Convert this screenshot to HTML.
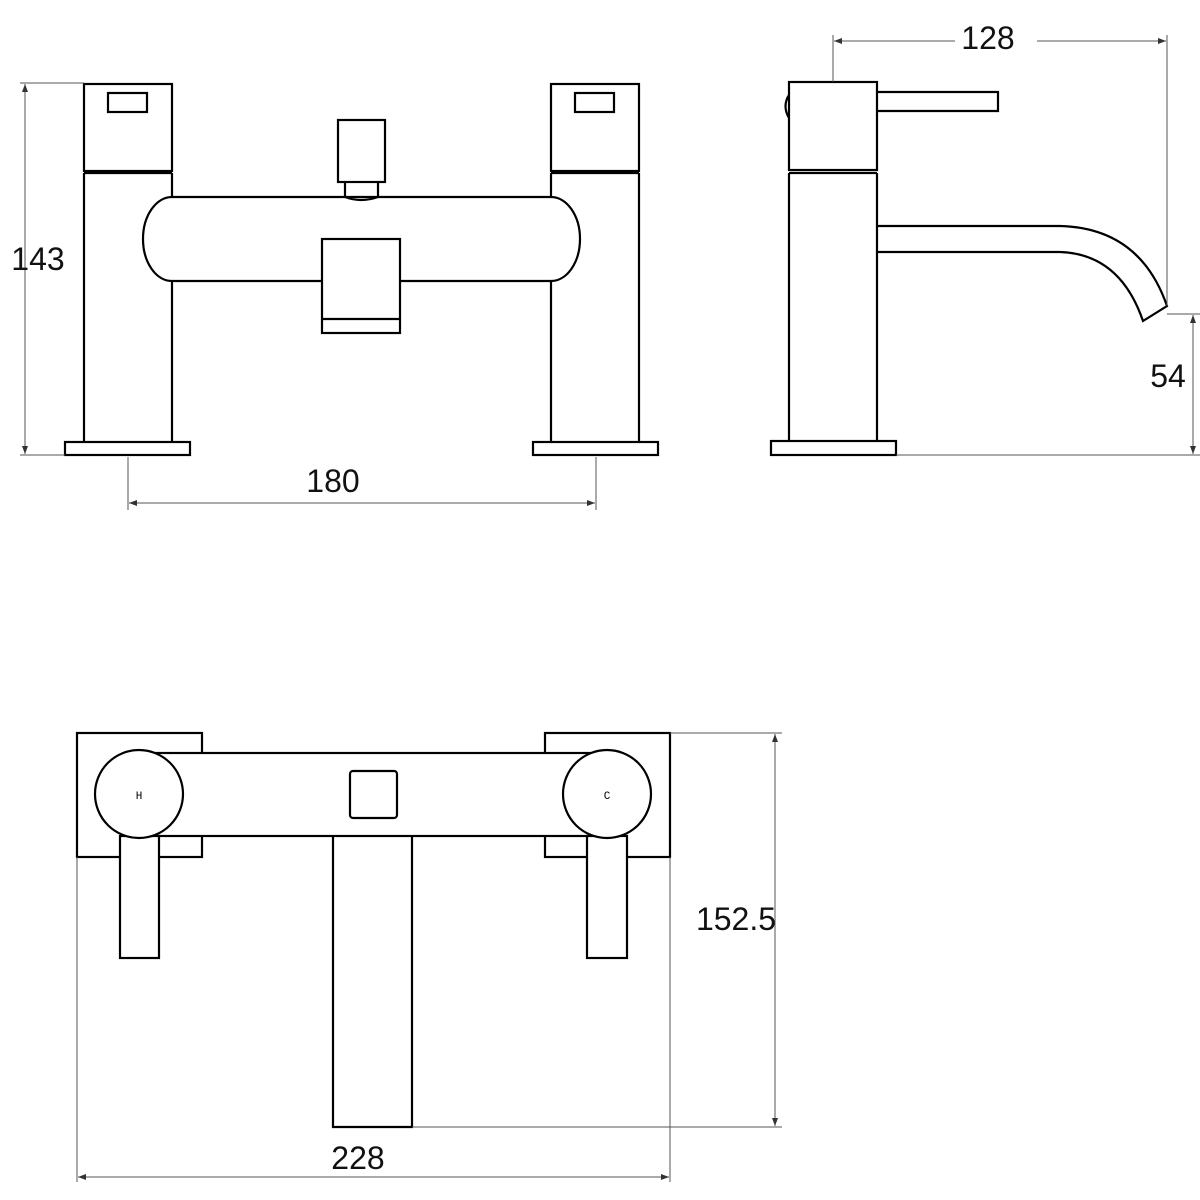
<!DOCTYPE html>
<html><head><style>body{margin:0;background:#fff}svg{display:block}</style></head>
<body>
<svg width="1200" height="1200" viewBox="0 0 1200 1200" xmlns="http://www.w3.org/2000/svg">
<defs><marker id="a" markerWidth="8" markerHeight="6" refX="8" refY="3" orient="auto-start-reverse" markerUnits="userSpaceOnUse" viewBox="0 0 8 6"><path d="M0,0 L8,3 L0,6 Z" fill="#333"/></marker></defs>
<g fill="none" stroke="#000" stroke-width="2.2">
<rect x="84" y="84" width="88" height="87"/><line x1="84" y1="173" x2="172" y2="173"/>
<rect x="108" y="93" width="39" height="19"/>
<line x1="84" y1="173" x2="84" y2="442"/><line x1="172" y1="173" x2="172" y2="197"/><line x1="172" y1="281" x2="172" y2="442"/>
<rect x="65" y="442" width="125" height="13"/>
<rect x="551" y="84" width="88" height="87"/><line x1="551" y1="173" x2="639" y2="173"/>
<rect x="575" y="93" width="39" height="19"/>
<line x1="639" y1="173" x2="639" y2="442"/><line x1="551" y1="173" x2="551" y2="197"/><line x1="551" y1="281" x2="551" y2="442"/>
<rect x="533" y="442" width="125" height="13"/>
<path d="M172,197 L551,197 A29,42 0 0 1 551,281 L400,281 M322,281 L172,281 A29,42 0 0 1 172,197"/>
<rect x="338" y="120" width="47" height="62"/>
<path d="M345,182 L345,197 Q361,203 378,197 L378,182"/>
<rect x="322" y="239" width="78" height="94"/><line x1="322" y1="319" x2="400" y2="319"/>
<rect x="789" y="82" width="88" height="88"/><line x1="789" y1="173" x2="877" y2="173"/>
<line x1="789" y1="173" x2="789" y2="441"/><line x1="877" y1="173" x2="877" y2="441"/>
<rect x="771" y="441" width="125" height="14"/>
<path d="M877,92 L998,92 L998,111 L877,111"/>
<path d="M789,95 Q782,106 789,118"/>
<path d="M877,226 L1060,226 Q1140,228 1167,306 L1143,321 Q1120,254 1060,252 L877,252"/>
<rect x="77" y="733" width="125" height="124"/>
<rect x="545" y="733" width="125" height="124"/>
<rect x="154" y="753" width="437" height="83" fill="#fff"/>
<rect x="120" y="836" width="39" height="122" fill="#fff"/>
<rect x="587" y="836" width="40" height="122" fill="#fff"/>
<ellipse cx="139" cy="794" rx="44" ry="44" fill="#fff"/>
<ellipse cx="607" cy="794" rx="44" ry="44" fill="#fff"/>
<rect x="350" y="771" width="47" height="47" rx="3"/>
<path d="M333,836 L333,1127 L412,1127 L412,836"/>
</g>
<g stroke="#555" stroke-width="1" fill="none">
<line x1="20" y1="83" x2="84" y2="83"/><line x1="20" y1="455" x2="65" y2="455"/>
<line x1="25" y1="84" x2="25" y2="454" marker-start="url(#a)" marker-end="url(#a)"/>
<line x1="128" y1="457" x2="128" y2="510"/><line x1="596" y1="457" x2="596" y2="510"/>
<line x1="129" y1="503" x2="595" y2="503" marker-start="url(#a)" marker-end="url(#a)"/>
<line x1="833" y1="35" x2="833" y2="82"/><line x1="1167" y1="35" x2="1167" y2="306"/>
<line x1="834" y1="41" x2="955" y2="41" marker-start="url(#a)"/><line x1="1037" y1="41" x2="1166" y2="41" marker-end="url(#a)"/>
<line x1="1167" y1="314" x2="1200" y2="314"/><line x1="896" y1="455" x2="1200" y2="455"/>
<line x1="1193" y1="315" x2="1193" y2="454" marker-start="url(#a)" marker-end="url(#a)"/>
<line x1="670" y1="733" x2="782" y2="733"/><line x1="412" y1="1127" x2="782" y2="1127"/>
<line x1="775" y1="734" x2="775" y2="1126" marker-start="url(#a)" marker-end="url(#a)"/>
<line x1="77" y1="857" x2="77" y2="1182"/><line x1="670" y1="857" x2="670" y2="1182"/>
<line x1="78" y1="1177" x2="669" y2="1177" marker-start="url(#a)" marker-end="url(#a)"/>
</g>
<g font-family="Liberation Sans, sans-serif" font-size="32" fill="#111">
<text x="38" y="270" text-anchor="middle">143</text>
<text x="333" y="492" text-anchor="middle">180</text>
<text x="988" y="49" text-anchor="middle">128</text>
<text x="1168" y="387" text-anchor="middle">54</text>
<text x="736" y="930" text-anchor="middle">152.5</text>
<text x="358" y="1169" text-anchor="middle">228</text>
</g>
<g font-family="Liberation Mono, monospace" font-size="11" fill="#000" text-anchor="middle">
<text x="139" y="799">H</text><text x="607" y="799">C</text>
</g>
</svg>
</body></html>
